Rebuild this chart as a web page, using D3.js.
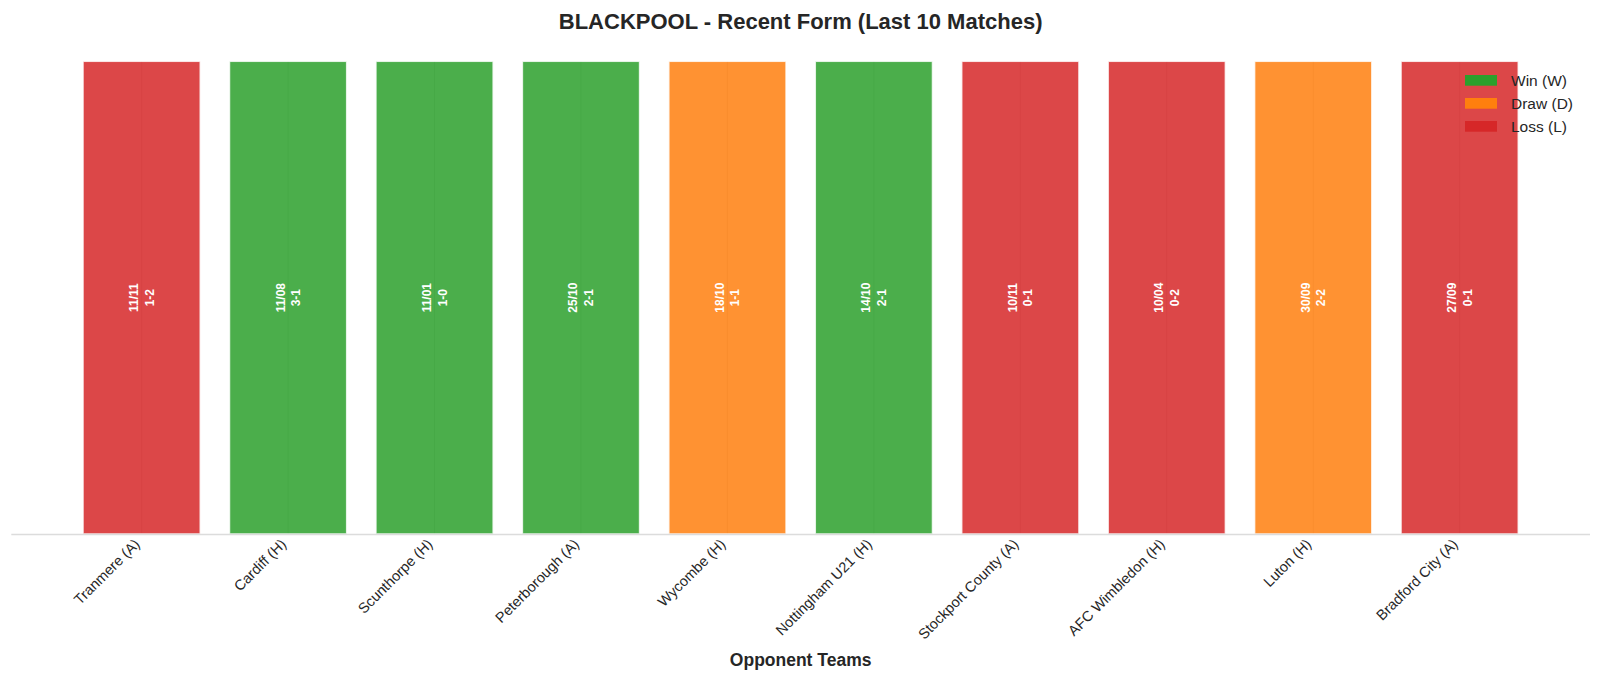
<!DOCTYPE html>
<html>
<head>
<meta charset="utf-8">
<script src="https://cdn.jsdelivr.net/npm/d3@7"></script>
<style>
body { margin: 0; background: #fff; }
svg { font-family: "Liberation Sans", Arial, sans-serif; }
</style>
</head>
<body>
<svg id="chart" width="1600" height="679"></svg>
<script>
// match data
var opponents = ["Tranmere (A)", "Cardiff (H)", "Scunthorpe (H)", "Peterborough (A)", "Wycombe (H)",
  "Nottingham U21 (H)", "Stockport County (A)", "AFC Wimbledon (H)", "Luton (H)", "Bradford City (A)"];
var results = ["L", "W", "W", "W", "D", "W", "L", "L", "D", "L"];
var dates = ["11/11", "11/08", "11/01", "25/10", "18/10", "14/10", "10/11", "10/04", "30/09", "27/09"];
var scores = ["1-2", "3-1", "1-0", "2-1", "1-1", "2-1", "0-1", "0-2", "2-2", "0-1"];
var legendKeys = ["W", "D", "L"];
var legendLabels = ["Win (W)", "Draw (D)", "Loss (L)"];

var colors = { W: "#2ca02c", D: "#ff7f0e", L: "#d62728" };

var width = 1600, height = 679;
var margin = { left: 11.3, right: 10, top: 61.3, bottom: 145 };
var innerW = width - margin.left - margin.right;
var innerH = height - margin.top - margin.bottom;

var svg = d3.select("#chart");
var g = svg.append("g").attr("transform", "translate(" + margin.left + "," + margin.top + ")");

// band scale, padding like matplotlib's default x margin
var x = d3.scaleBand().domain(d3.range(opponents.length)).range([0, innerW]).paddingInner(0.2).paddingOuter(0.49);
var y = d3.scaleLinear().domain([0, 1]).range([innerH, 0]);
var cx = function(i) { return x(i) + x.bandwidth() / 2; };

// faint vertical grid (shows through the bars)
g.selectAll(".grid").data(opponents).enter().append("line")
  .attr("x1", function(d, i) { return cx(i); })
  .attr("x2", function(d, i) { return cx(i); })
  .attr("y1", 0).attr("y2", innerH)
  .style("stroke", "#b0b0b0").style("stroke-opacity", 0.4).style("stroke-width", 1.2);

// bars
g.selectAll(".bar").data(results).enter().append("rect")
  .attr("x", function(d, i) { return x(i); })
  .attr("y", y(1))
  .attr("width", x.bandwidth())
  .attr("height", y(0) - y(1))
  .style("fill", function(d) { return colors[d]; })
  .style("fill-opacity", 0.85)
  .style("stroke", "#fff").style("stroke-width", 1.5).style("stroke-opacity", 0.8);

// labels inside bars
var labels = g.selectAll(".lbl").data(results).enter().append("text")
  .attr("transform", function(d, i) {
    return "translate(" + cx(i) + "," + y(0.5) + ") rotate(-90)";
  })
  .style("text-anchor", "middle").style("fill", "#fff").style("font-weight", "bold").style("font-size", "12px");
labels.append("tspan").attr("x", 0).attr("y", -3.5).text(function(d, i) { return dates[i]; });
labels.append("tspan").attr("x", 0).attr("y", 12).text(function(d, i) { return scores[i]; });

// bottom spine
g.append("line").attr("x1", 0).attr("x2", innerW).attr("y1", innerH + 0.5).attr("y2", innerH + 0.5)
  .style("stroke", "#dcdcdc").style("stroke-width", 1.5);

// x tick labels
g.selectAll(".tick").data(opponents).enter().append("text")
  .attr("transform", function(d, i) {
    return "translate(" + (cx(i) - 1) + "," + (innerH + 11) + ") rotate(-45)";
  })
  .style("text-anchor", "end").style("font-size", "14.5px").style("fill", "#262626")
  .text(function(d) { return d; });

// axis title
svg.append("text").attr("x", margin.left + innerW / 2).attr("y", 665.5)
  .style("text-anchor", "middle").style("font-weight", "bold").style("font-size", "17.5px").style("fill", "#262626")
  .text("Opponent Teams");

// chart title
svg.append("text").attr("x", margin.left + innerW / 2).attr("y", 28.5)
  .style("text-anchor", "middle").style("font-weight", "bold").style("font-size", "22px").style("fill", "#262626")
  .text("BLACKPOOL - Recent Form (Last 10 Matches)");

// legend
var legend = svg.append("g").attr("transform", "translate(1465,75)");
var items = legend.selectAll(".item").data(legendKeys).enter().append("g")
  .attr("transform", function(d, i) { return "translate(0," + (i * 23) + ")"; });
items.append("rect").attr("width", 32).attr("height", 10.7)
  .style("fill", function(d) { return colors[d]; });
items.append("text").attr("x", 46).attr("y", 10.5).style("font-size", "15.5px").style("fill", "#262626")
  .text(function(d, i) { return legendLabels[i]; });
</script>
</body>
</html>
